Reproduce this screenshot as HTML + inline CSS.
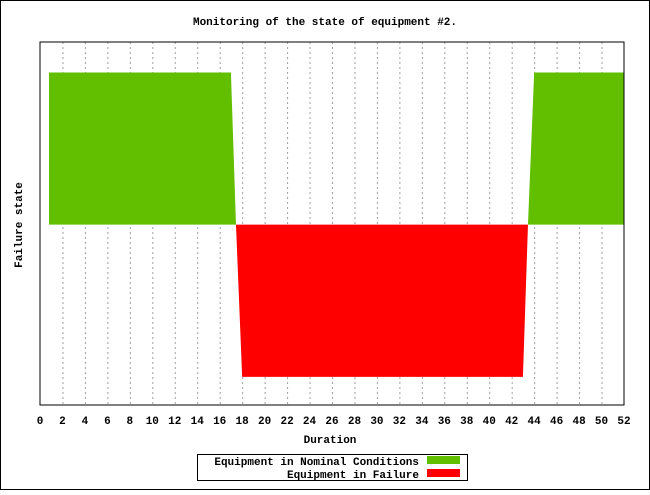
<!DOCTYPE html>
<html><head><meta charset="utf-8"><style>
body{margin:0;background:#fff}
svg text{font-family:"Liberation Mono",monospace;font-weight:bold;font-size:11px;fill:#000}
</style></head><body>
<svg width="650" height="490" xmlns="http://www.w3.org/2000/svg">
<rect x="0.5" y="0.5" width="649" height="489" fill="#fff" stroke="#000"/>
<text x="325" y="25" text-anchor="middle">Monitoring of the state of equipment #2.</text>
<g id="grid"></g>
<g id="marks"></g>
<rect x="40" y="42" width="584" height="363" fill="none" stroke="#000"/>
<g id="xt"></g>
<text x="330" y="443" text-anchor="middle">Duration</text>
<text transform="translate(22,225) rotate(-90)" text-anchor="middle">Failure state</text>
<g>
<rect x="197.5" y="454.5" width="270" height="26" fill="#fff" stroke="#000"/>
<text x="419" y="465" text-anchor="end">Equipment in Nominal Conditions</text>
<rect x="427" y="456" width="33" height="8" fill="#62bf00"/>
<text x="419" y="478" text-anchor="end">Equipment in Failure</text>
<rect x="427" y="469" width="33" height="8" fill="#ff0000"/>
</g>
</svg>
<script>
const xTicks=[0,2,4,6,8,10,12,14,16,18,20,22,24,26,28,30,32,34,36,38,40,42,44,46,48,50,52];
const nominal1X=[0.8,0.8,17,17.45];
const nominal1Y=[0,1,1,0];
const nominal2X=[43.45,44,52,52];
const nominal2Y=[0,1,1,0];
const failureX=[17.45,18,43,43.45];
const failureY=[0,-1,-1,0];
const X0=40,X1=624,Y0=405,Y1=42,XMIN=0,XMAX=52,YMIN=-1.185,YMAX=1.2;
const sx=v=>X0+(v-XMIN)/(XMAX-XMIN)*(X1-X0);
const sy=v=>Y0-(v-YMIN)/(YMAX-YMIN)*(Y0-Y1);
const NS="http://www.w3.org/2000/svg";
const grid=document.getElementById('grid'),xt=document.getElementById('xt'),marks=document.getElementById('marks');
xTicks.forEach(t=>{
 const x=sx(t)+0.5;
 if(t>XMIN&&t<XMAX){
  const l=document.createElementNS(NS,'line');
  l.setAttribute('x1',x);l.setAttribute('x2',x);l.setAttribute('y1',Y1);l.setAttribute('y2',Y0);
  l.setAttribute('stroke','#a0a0a0');l.setAttribute('stroke-dasharray','2,3');
  
  
  grid.appendChild(l);
 }
 const tx=document.createElementNS(NS,'text');
 tx.setAttribute('x',sx(t));tx.setAttribute('y',424);tx.setAttribute('text-anchor','middle');
 tx.textContent=t;
 
 
 xt.appendChild(tx);
});
function poly(xs,ys,color,name){
 const p=document.createElementNS(NS,'polygon');
 p.setAttribute('points',xs.map((x,i)=>sx(x)+','+sy(ys[i])).join(' '));
 p.setAttribute('fill',color);
 
 
 marks.appendChild(p);
}
poly(nominal1X,nominal1Y,'#62bf00','nominal-area-1');
poly(nominal2X,nominal2Y,'#62bf00','nominal-area-2');
poly(failureX,failureY,'#ff0000','failure-area');
</script>
</body></html>
